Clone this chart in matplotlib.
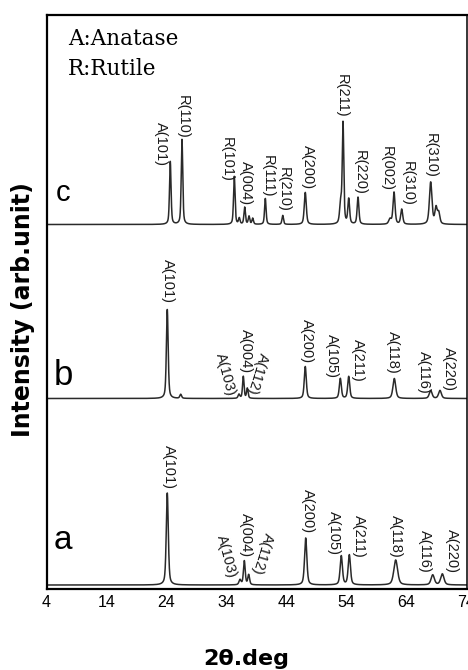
import numpy as np
import matplotlib
matplotlib.use("Agg")
import matplotlib.pyplot as plt

plt.rcParams['font.family'] = ['Liberation Sans', 'DejaVu Sans']

# peak positions (2theta, deg), heights (arb.) and widths (FWHM, deg)
a_pos = [24.13, 36.25, 36.97, 37.70, 47.20, 53.13, 54.47, 62.20, 68.37, 69.97]
a_height = [92, 5, 24, 10, 47, 29, 30, 25, 10, 11]
a_width = [0.40, 0.40, 0.35, 0.35, 0.45, 0.45, 0.45, 0.75, 0.65, 0.65]

b_pos = [24.13, 26.37, 36.08, 36.80, 37.47, 47.13, 52.97, 54.37, 61.97, 68.03, 69.58]
b_height = [89, 4, 4, 22, 10, 32, 20, 22, 20, 8, 8]
b_width = [0.35, 0.35, 0.35, 0.30, 0.30, 0.40, 0.40, 0.40, 0.55, 0.55, 0.55]

c_pos = [24.63, 26.58, 35.30, 36.13, 37.03, 37.75, 38.37, 40.47, 43.37, 47.13,
         53.03, 53.42, 54.37, 55.92, 61.25, 61.92, 63.20, 68.03, 68.92, 69.37]
c_height = [63, 85, 48, 6, 17, 8, 6, 26, 9, 32,
            20, 100, 25, 27, 5, 32, 15, 42, 16, 11]
c_width = [0.30, 0.30, 0.30, 0.30, 0.30, 0.30, 0.30, 0.30, 0.30, 0.40,
           0.40, 0.30, 0.35, 0.35, 0.50, 0.40, 0.40, 0.50, 0.45, 0.45]

a_labels = ['A(101)', 'A(103)', 'A(004)', 'A(112)', 'A(200)', 'A(105)', 'A(211)', 'A(118)', 'A(116)', 'A(220)']
a_label_peak = [0, 1, 2, 3, 4, 5, 6, 7, 8, 9]
b_labels = ['A(101)', 'A(103)', 'A(004)', 'A(112)', 'A(200)', 'A(105)', 'A(211)', 'A(118)', 'A(116)', 'A(220)']
b_label_peak = [0, 2, 3, 4, 5, 6, 7, 8, 9, 10]
c_labels = ['A(101)', 'R(110)', 'R(101)', 'A(004)', 'R(111)', 'R(210)', 'A(200)', 'R(211)',
            'R(220)', 'R(002)', 'R(310)', 'R(310)']
c_label_peak = [0, 1, 2, 4, 7, 8, 9, 11, 13, 15, 16, 17]

baselines = {'a': 4, 'b': 190.5, 'c': 364.5}
x_ticks = [4, 14, 24, 34, 44, 54, 64, 74]

# label layout: offset (pixels) from the peak tip and rotation
a_offsets = [(2, 4), (-14, 0), (2, 3), (14, -2), (2, 5), (-7, 1), (10, -3), (0, 2), (-8, 2), (10, 1)]
b_offsets = [(1, 6), (-14, -4), (3, 3), (10, -8), (2, 3), (-8, 0), (9, -5), (-1, 5), (-7, -3), (9, -1)]
c_offsets = [(-9, -5), (1, 1), (-8, -6), (1, 2), (2, 1), (1, 3), (3, 3), (-1, 4), (2, 2), (-7, 1), (6, 3), (0, 4)]
tilt = {'A(103)': 285, 'A(112)': 253}


def profile(x, pos, height, width):
    y = np.zeros_like(x)
    for p, h, w in zip(pos, height, width):
        g = w / 2.0
        lor = g ** 2 / ((x - p) ** 2 + g ** 2)
        gau = np.exp(-np.log(2) * ((x - p) / g) ** 2)
        y += h * (0.5 * lor + 0.5 * gau)
    return y


fig = plt.figure(figsize=(4.68, 6.7), dpi=100)
ax = fig.add_axes([46.5 / 468, 81 / 670, 420 / 468, 574.5 / 670])
ax.set_xlim(4, 74)
ax.set_ylim(0, 574.5)

x = np.linspace(4, 74, 4000)
panels = [
    ('a', a_pos, a_height, a_width, a_labels, a_label_peak, a_offsets),
    ('b', b_pos, b_height, b_width, b_labels, b_label_peak, b_offsets),
    ('c', c_pos, c_height, c_width, c_labels, c_label_peak, c_offsets),
]
for name, pos, height, width, labels, label_peak, offsets in panels:
    base = baselines[name]
    y = base + profile(x, pos, height, width)
    ax.plot(x, y, color='#2a2a2a', lw=1.1)
    for text, i, (dx, dy) in zip(labels, label_peak, offsets):
        tip = base + profile(np.array([pos[i]]), pos, height, width)[0]
        ax.annotate(text, xy=(pos[i], tip), xytext=(dx, dy), textcoords='offset pixels',
                    rotation=tilt.get(text, 270), ha='center', va='bottom', fontsize=10.5,
                    color='#1a1a1a')

ax.set_xticks(x_ticks)
ax.set_yticks([])
ax.tick_params(axis='x', length=0, pad=4, labelsize=11.5)
for side in ['left', 'bottom', 'top']:
    ax.spines[side].set_linewidth(1.6)
ax.spines['right'].set_linewidth(1.1)

# panel letters
fig.text(62.7 / 468, 1 - 200.7 / 670, 'c', ha='center', va='baseline', fontsize=21)
fig.text(63 / 468, 1 - 385 / 670, 'b', ha='center', va='baseline', fontsize=25)
fig.text(63 / 468, 1 - 549.3 / 670, 'a', ha='center', va='baseline', fontsize=24)

fig.text(68 / 468, 1 - 45 / 670, 'A:Anatase', family='DejaVu Serif', fontsize=15.5, va='baseline')
fig.text(68 / 468, 1 - 75 / 670, 'R:Rutile', family='DejaVu Serif', fontsize=15.5, va='baseline')

fig.text(23 / 468, 1 - 310 / 670, 'Intensity (arb.unit)', rotation=90, ha='center', va='center',
         fontsize=17, fontweight='heavy', family='DejaVu Sans')
fig.text(246 / 468, 1 - 665 / 670, '2θ.deg', ha='center', va='baseline',
         fontsize=16, fontweight='heavy', family='DejaVu Sans')

fig.savefig('out.png', dpi=100)
